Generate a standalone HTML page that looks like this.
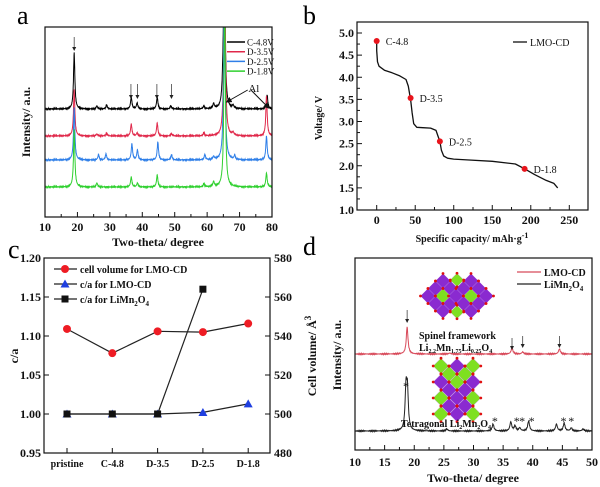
<!DOCTYPE html>
<html><head><meta charset="utf-8">
<style>
html,body{margin:0;padding:0;background:#fff;}
svg{display:block;font-family:"Liberation Serif",serif;}
.t{font-weight:bold;font-size:12px;fill:#111;}
.s{font-weight:bold;font-size:10px;fill:#111;}
</style></head><body>
<svg id="fig" width="600" height="487" viewBox="0 0 600 487" xmlns="http://www.w3.org/2000/svg">
<defs>
<clipPath id="clipA"><rect x="45" y="27" width="227" height="190"/></clipPath>
<clipPath id="clipD"><rect x="355" y="258" width="237" height="192"/></clipPath>
<marker id="arr2" viewBox="0 0 6 6" refX="5" refY="3" markerWidth="6" markerHeight="6" orient="auto"><path d="M0,0 L6,3 L0,6 z" fill="#111"/></marker>
</defs>
<g id="gA"></g>
<g id="gB"></g>
<g id="gC"></g>
<g id="gD"></g>
</svg>
<script>
// ---------- data ----------
const aSeriesNames = ["C-4.8V","D-3.5V","D-2.5V","D-1.8V"];
const aColors = ["#000000","#e0284a","#2f7fe8","#2fd02f"];
const aBaselines = [109,136,160,187];
const aPeaksC48 = [[19,56],[26,3],[29,4],[36.6,12],[38.4,6],[44.6,12],[48.8,3],[59,3],[62,5],[64.8,10],[65.3,200],[68,3],[78.5,14]];
const aPeaksD35 = [[19,46],[26,2],[29,3],[36.6,12],[38.4,3],[44.6,13],[49,2],[59,3],[64.8,5],[65.4,200],[68,3],[78.3,40]];
const aPeaksD25 = [[19,52],[26.5,5],[28.8,6],[36.8,16],[38.5,10],[44.8,18],[49,5],[59.3,5],[62,3],[65.3,200],[68.5,4],[78.3,24]];
const aPeaksD18 = [[19,57],[26,4],[36.6,10],[38.5,4],[44.6,12],[59,3],[62,5],[65.4,200],[78.3,14]];
const aTicks = [10,20,30,40,50,60,70,80];
const bCapacity = [0,0,1,3,10,20,30,38,41,43,44,46,48,52,60,70,77,80,82,84,87,92,100,120,150,180,192,205,220,230,235];
const bVoltage  = [4.8,4.6,4.35,4.25,4.16,4.1,4.03,3.95,3.8,3.6,3.5,3.2,2.95,2.87,2.86,2.85,2.8,2.65,2.55,2.35,2.22,2.17,2.15,2.13,2.1,2.04,1.93,1.8,1.67,1.6,1.5];
const bMarkCap = [0,44,82,192];
const bMarkV = [4.82,3.53,2.55,1.93];
const bMarkLabels = ["C-4.8","D-3.5","D-2.5","D-1.8"];
const bXTicks = [0,50,100,150,200,250];
const bYTicks = [1.0,1.5,2.0,2.5,3.0,3.5,4.0,4.5,5.0];
const cCategories = ["pristine","C-4.8","D-3.5","D-2.5","D-1.8"];
const cCellVolume = [543.6,531.2,542.4,542,546.4];
const cRatioLMO = [1.0,1.0,1.0,1.002,1.013];
const cRatioLiMn = [1.0,1.0,1.0,1.16];
const cLeftTicks = [0.95,1.00,1.05,1.10,1.15,1.20];
const cRightTicks = [480,500,520,540,560,580];
const dPeaksLMO = [[18.8,27],[26,1],[36.5,6],[38.3,2],[44.5,5]];
const dPeaksLiMn = [[18.6,40],[18.85,38],[25.5,2],[33.3,7],[36.3,9],[37,5],[37.8,3],[39.3,10],[44,7],[45.3,8],[46.5,3],[48.5,2]];
const dTicks = [10,15,20,25,30,35,40,45,50];
const dStars = [[18.6,384],[33.6,419],[37.3,419],[38.2,419],[39.8,419],[45.2,419],[46.5,419]];

// ---------- helpers ----------
const NS="http://www.w3.org/2000/svg";
function mk(parent,tag,attrs,text){const e=document.createElementNS(NS,tag);for(const k in attrs)e.setAttribute(k,attrs[k]);if(text!==undefined)e.textContent=text;parent.appendChild(e);return e;}
function lin(d0,d1,r0,r1){return v=>r0+(v-d0)*(r1-r0)/(d1-d0);}
function pattern(peaks,x0,x1,w){const pts=[];for(let x=x0;x<=x1;x+=0.05){let y=0;for(const p of peaks){const d=(x-p[0])/w;y+=p[1]/(1+d*d);}const n=Math.sin(x*37.1)*0.35+Math.sin(x*91.7)*0.3;pts.push([x,y+n]);}return pts;}
function box(g,x,y,w,h){const r=mk(g,'rect',{x:x,y:y,width:w,height:h,fill:'none',stroke:'#111','stroke-width':1.2});}
function arrow(g,x,y1,y2){const a=mk(g,'g',{});
 mk(a,'line',{x1:x,x2:x,y1:y1,y2:y2-3,stroke:'#444','stroke-width':0.8});
 mk(a,'polygon',{points:`${x-2},${y2-4} ${x+2},${y2-4} ${x},${y2}`,fill:'#222'});}

// ---------- panel a ----------
(function(){
const g=document.getElementById('gA');
const X=lin(10,80,45,272);
let t=mk(g,'text',{x:17,y:24,'font-size':26});t.textContent='a';

const all=[aPeaksC48,aPeaksD35,aPeaksD25,aPeaksD18];
const gc=mk(g,'g',{'clip-path':'url(#clipA)'});
all.forEach((pk,i)=>{
 const pts=pattern(pk,10,80,0.25);
 const d=pts.map((p,j)=>(j?'L':'M')+X(p[0]).toFixed(1)+','+(aBaselines[i]-p[1]).toFixed(1)).join('');
 const p=mk(gc,'path',{d:d,fill:'none',stroke:aColors[i],'stroke-width':1});
 
 
});
box(g,45,27,227,190);
aTicks.forEach(v=>{mk(g,'line',{x1:X(v),x2:X(v),y1:217,y2:212,stroke:'#111'});
 const l=mk(g,'text',{x:X(v),y:231,'text-anchor':'middle',class:'t'},v);
 });
for(let v=15;v<80;v+=10)mk(g,'line',{x1:X(v),x2:X(v),y1:217,y2:214,stroke:'#111'});
t=mk(g,'text',{x:158,y:246,'text-anchor':'middle',class:'t'},'Two-theta/ degree');

t=mk(g,'text',{x:30,y:122,'text-anchor':'middle',class:'t',transform:'rotate(-90 30 122)'},'Intensity/ a.u.');

[[19,37,51],[36.5,84,99],[38.5,84,99],[44.5,84,99],[49,84,99]].forEach(a=>arrow(g,X(a[0]),a[1],a[2]));
mk(g,'line',{x1:X(72.5),y1:90,x2:X(66),y2:102,stroke:'#111','marker-end':'url(#arr2)'});
mk(g,'line',{x1:X(73.5),y1:90,x2:X(79),y2:108,stroke:'#111','marker-end':'url(#arr2)'});
t=mk(g,'text',{x:X(72.7),y:92,'font-size':11,fill:'#111'},'Al');

const lg=mk(g,'g',{});
aSeriesNames.forEach((n,i)=>{const y=42+i*9.7;mk(lg,'line',{x1:227,x2:245,y1:y,y2:y,stroke:aColors[i],'stroke-width':1.5});
 const e=mk(lg,'text',{x:247,y:y+3.5,'font-size':9,fill:'#111'},n);});
})();

// ---------- panel b ----------
(function(){
const g=document.getElementById('gB');
const X=lin(0,250,376.7,569.3), Y=lin(1,5,210,33);
let t=mk(g,'text',{x:303,y:24,'font-size':26},'b');
box(g,357,22,231,188);
const d=bCapacity.map((c,i)=>(i?'L':'M')+X(c).toFixed(1)+','+Y(bVoltage[i]).toFixed(1)).join('');
const p=mk(g,'path',{d:d,fill:'none',stroke:'#111','stroke-width':1.3,'stroke-linejoin':'round'});

bMarkCap.forEach((c,i)=>{const m=mk(g,'circle',{cx:X(c),cy:Y(bMarkV[i]),r:3,fill:'#e8141c'});
 const l=mk(g,'text',{x:X(c)+9,y:Y(bMarkV[i])+4,'font-size':10,fill:'#111'},bMarkLabels[i]);});
bXTicks.forEach(v=>{mk(g,'line',{x1:X(v),x2:X(v),y1:210,y2:205,stroke:'#111'});const l=mk(g,'text',{x:X(v),y:224,'text-anchor':'middle',class:'t'},v);});
for(let v=25;v<275;v+=50)mk(g,'line',{x1:X(v),x2:X(v),y1:210,y2:207,stroke:'#111'});
bYTicks.forEach(v=>{mk(g,'line',{x1:357,x2:362,y1:Y(v),y2:Y(v),stroke:'#111'});const l=mk(g,'text',{x:354,y:Y(v)+4,'text-anchor':'end',class:'t'},v.toFixed(1));});
for(let v=1.25;v<5.1;v+=0.5)mk(g,'line',{x1:357,x2:360,y1:Y(v),y2:Y(v),stroke:'#111'});
t=mk(g,'text',{x:322,y:118,'text-anchor':'middle',class:'s',transform:'rotate(-90 322 118)'},'Voltage/ V');
t=mk(g,'text',{x:472,y:242,'text-anchor':'middle',class:'s'});t.innerHTML='Specific capacity/ mAh·g<tspan dy="-4" font-size="8">-1</tspan>';
mk(g,'line',{x1:513,x2:527,y1:42,y2:42,stroke:'#111','stroke-width':1.3});
t=mk(g,'text',{x:530,y:46,'font-size':10,fill:'#111'},'LMO-CD');
})();

// ---------- panel c ----------
(function(){
const g=document.getElementById('gC');
const YL=lin(0.95,1.20,453,258), YR=lin(480,580,453,258);
const X=i=>67+i*45.3;
let t=mk(g,'text',{x:8,y:258,'font-size':26},'c');
box(g,44,258,226,195);
cLeftTicks.forEach(v=>{mk(g,'line',{x1:44,x2:49,y1:YL(v),y2:YL(v),stroke:'#111'});const l=mk(g,'text',{x:41,y:YL(v)+4,'text-anchor':'end',class:'t'},v.toFixed(2));});
cRightTicks.forEach(v=>{mk(g,'line',{x1:265,x2:270,y1:YR(v),y2:YR(v),stroke:'#111'});const l=mk(g,'text',{x:274,y:YR(v)+4,class:'t'},v);});
cCategories.forEach((c,i)=>{mk(g,'line',{x1:X(i),x2:X(i),y1:453,y2:448,stroke:'#111'});const l=mk(g,'text',{x:X(i),y:467,'text-anchor':'middle',class:'s','font-size':11},c);});
function series(vals,yf,shape,color,name){
 const d=vals.map((v,i)=>(i?'L':'M')+X(i)+','+yf(v).toFixed(1)).join('');
 const p=mk(g,'path',{d:d,fill:'none',stroke:'#222','stroke-width':1.2});
 vals.forEach((v,i)=>{const x=X(i),y=yf(v);let m;
  if(shape==='c')m=mk(g,'circle',{cx:x,cy:y,r:4,fill:color});
  else if(shape==='t')m=mk(g,'polygon',{points:`${x},${y-4.5} ${x-4.5},${y+3.5} ${x+4.5},${y+3.5}`,fill:color});
  else m=mk(g,'rect',{x:x-3.5,y:y-3.5,width:7,height:7,fill:color});
  });
}
series(cCellVolume,YR,'c','#ee1c24','cell-volume');
series(cRatioLMO,YL,'t','#1f3fe0','ca-lmo-cd');
series(cRatioLiMn,YL,'s','#111','ca-limn2o4');
const lg=mk(g,'g',{});
const items=[['c','#ee1c24','cell volume for LMO-CD'],['t','#1f3fe0','c/a for LMO-CD'],['s','#111','c/a for LiMn<tspan dy="3" font-size="7">2</tspan><tspan dy="-3">O</tspan><tspan dy="3" font-size="7">4</tspan>']];
items.forEach((it,i)=>{const y=269+i*15,x=65;mk(lg,'line',{x1:54,x2:77,y1:y,y2:y,stroke:'#222','stroke-width':1.2});
 if(it[0]==='c')mk(lg,'circle',{cx:x,cy:y,r:4,fill:it[1]});else if(it[0]==='t')mk(lg,'polygon',{points:`${x},${y-4.5} ${x-4.5},${y+3.5} ${x+4.5},${y+3.5}`,fill:it[1]});else mk(lg,'rect',{x:x-3.5,y:y-3.5,width:7,height:7,fill:it[1]});
 const e=mk(lg,'text',{x:80,y:y+4,class:'s'});e.innerHTML=it[2];});
t=mk(g,'text',{x:18,y:356,'text-anchor':'middle',class:'t',transform:'rotate(-90 18 356)'},'c/a');
t=mk(g,'text',{x:316,y:356,'text-anchor':'middle',class:'t','font-size':13,transform:'rotate(-90 316 356)'});t.innerHTML='Cell volume/ Å<tspan dy="-5" font-size="9">3</tspan>';
})();

// ---------- panel d ----------
(function(){
const g=document.getElementById('gD');
const X=lin(10,50,355,592);
let t=mk(g,'text',{x:303,y:255,'font-size':26},'d');
const gc=mk(g,'g',{'clip-path':'url(#clipD)'});
[[dPeaksLMO,354,'#d84a5a','lmo-cd'],[dPeaksLiMn,431,'#222','limn2o4']].forEach(s=>{
 const pts=pattern(s[0],10,50,0.18);
 const d=pts.map((p,j)=>(j?'L':'M')+X(p[0]).toFixed(1)+','+(s[1]-p[1]).toFixed(1)).join('');
 const p=mk(gc,'path',{d:d,fill:'none',stroke:s[2],'stroke-width':1});});
const P='#8a2ad0',G='#7ee020';
function diamond(par,cx,cy,r,col){mk(par,'polygon',{points:`${cx},${cy-r} ${cx+r},${cy} ${cx},${cy+r} ${cx-r},${cy}`,fill:col,stroke:'#c9a0e8','stroke-width':0.4});
 [[0,-r],[r,0],[0,r],[-r,0]].forEach(o=>mk(par,'circle',{cx:cx+o[0],cy:cy+o[1],r:1.4,fill:'#e01010'}));}
function grid(par,cx,cy,r,cols){
 for(let i=-1;i<=1;i++)for(let j=-1;j<=1;j++){diamond(par,cx+(i+j)*r,cy+(i-j)*r,r,cols[i+1][j+1]);}}
const sp=mk(g,'g',{});
const rs=7.5;
grid(sp,443,296,rs,[[P,P,P],[P,G,P],[P,P,P]]);
grid(sp,471,296,rs,[[P,P,P],[P,G,P],[P,P,P]]);
diamond(sp,457,280,rs*0.9,G);diamond(sp,457,312,rs*0.9,G);
const te=mk(g,'g',{});
const rt=7.8;
[[441,366,G],[457,366,P],[473,366,G],[449,374,G],[465,374,G],[441,382,P],[457,382,G],[473,382,P],[449,390,P],[465,390,P],[441,398,G],[457,398,P],[473,398,G],[449,406,P],[465,406,P],[441,414,G],[473,414,G],[457,414,P]].forEach(d=>diamond(te,d[0],d[1],rt,d[2]));
box(g,355,258,237,192);
dTicks.forEach(v=>{mk(g,'line',{x1:X(v),x2:X(v),y1:450,y2:445,stroke:'#111'});const l=mk(g,'text',{x:X(v),y:466,'text-anchor':'middle',class:'t','font-size':13},v);});
for(let v=12.5;v<50;v+=5)mk(g,'line',{x1:X(v),x2:X(v),y1:450,y2:447,stroke:'#111'});
t=mk(g,'text',{x:473,y:482,'text-anchor':'middle',class:'t','font-size':13},'Two-theta/ degree');
t=mk(g,'text',{x:341,y:355,'text-anchor':'middle',class:'t',transform:'rotate(-90 341 355)'},'Intensity/ a.u.');
[[18.8,310,323],[36.5,338,350],[38.3,336,348],[44.5,336,348]].forEach(a=>arrow(g,X(a[0]),a[1],a[2]));
dStars.forEach(s=>{const e=mk(g,'text',{x:X(s[0]),y:s[1]+6,'text-anchor':'middle','font-size':12,fill:'#111'},'*');});
t=mk(g,'text',{x:419,y:339,class:'s','font-size':10},'Spinel framework');
t=mk(g,'text',{x:419,y:351,class:'s','font-size':10});t.innerHTML='Li<tspan dy="2" font-size="6">2.2</tspan><tspan dy="-2">Mn</tspan><tspan dy="2" font-size="6">1.75</tspan><tspan dy="-2">Li</tspan><tspan dy="2" font-size="6">0.25</tspan><tspan dy="-2">O</tspan><tspan dy="2" font-size="6">4</tspan>';
t=mk(g,'text',{x:401,y:427,class:'s','font-size':10});t.innerHTML='Tetragonal Li<tspan dy="2" font-size="6">2</tspan><tspan dy="-2">Mn</tspan><tspan dy="2" font-size="6">2</tspan><tspan dy="-2">O</tspan><tspan dy="2" font-size="6">4</tspan>';
const lg=mk(g,'g',{});
mk(lg,'line',{x1:517,x2:541,y1:272,y2:272,stroke:'#d84a5a','stroke-width':1.3});
mk(lg,'line',{x1:517,x2:541,y1:284,y2:284,stroke:'#222','stroke-width':1.3});
let e=mk(lg,'text',{x:544,y:276,class:'s','font-size':11},'LMO-CD');
e=mk(lg,'text',{x:544,y:288,class:'s','font-size':11});e.innerHTML='LiMn<tspan dy="3" font-size="7">2</tspan><tspan dy="-3">O</tspan><tspan dy="3" font-size="7">4</tspan>';
})();
</script>
</body></html>
